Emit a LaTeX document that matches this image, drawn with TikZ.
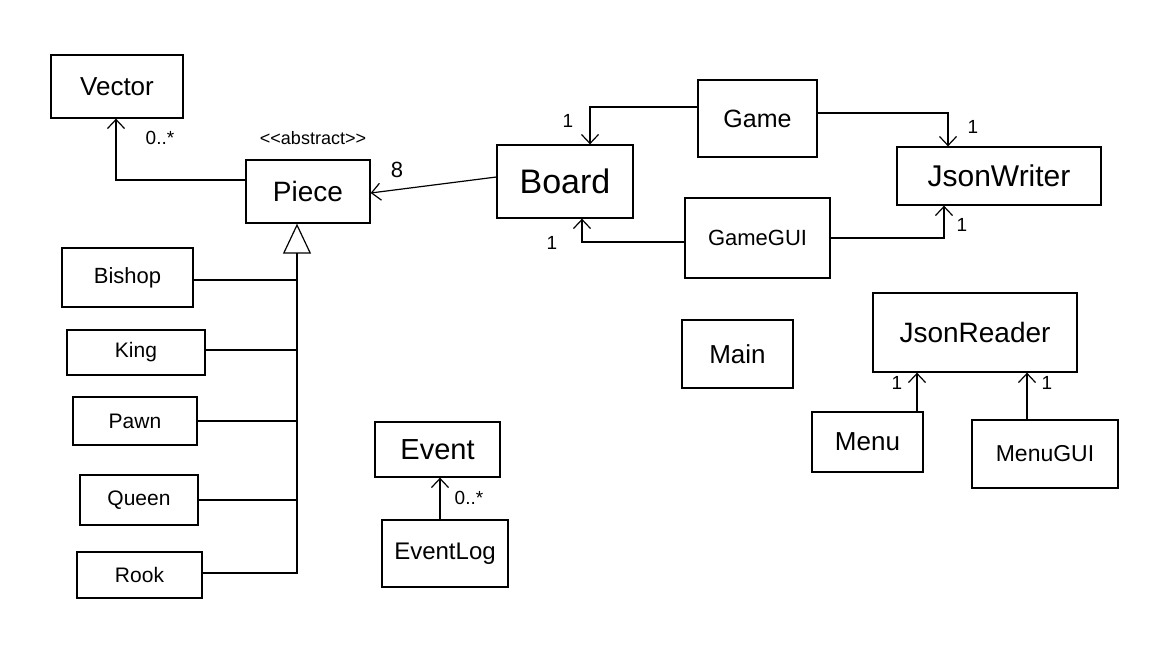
\documentclass[tikz,border=0pt]{standalone}
\usepackage{fontspec}
\setmainfont{Liberation Sans}
\usetikzlibrary{arrows.meta}
\newcommand{\fsz}[1]{\fontsize{#1}{#1}\selectfont}
\begin{document}
\begin{tikzpicture}[x=1pt,y=-1pt,
  box/.style={draw, line width=1.3pt, inner sep=0pt, anchor=center},
  conn/.style={line width=1.2pt},
  arr/.style={conn, -{Straight Barb[length=9pt,width=17pt,line width=1.2pt]}},
  inh/.style={conn, -{Triangle[open,length=30pt,width=28pt,line width=1.2pt]}},
  lbl/.style={font=\fsz{19}, inner sep=0pt}
]
\fill[white] (0,0) rectangle (1166,657);
\useasboundingbox (0,0) rectangle (1166,657);

% left column
\node[box, minimum width=132pt, minimum height=63pt, font=\fsz{26}] (vector) at (117,86.5) {Vector};
\node[box, minimum width=124pt, minimum height=63pt, font=\fsz{28}] (piece) at (308,191.5) {Piece};
\node[lbl, font=\fsz{18}] (abs) at (313,138) {<{}<abstract>{}>};
\node[box, minimum width=131pt, minimum height=59pt, font=\fsz{22}] (bishop) at (127.5,277.5) {Bishop};
\node[box, minimum width=138pt, minimum height=45pt, font=\fsz{21}] (king) at (136,352.5) {King};
\node[box, minimum width=124pt, minimum height=48pt, font=\fsz{21}] (pawn) at (135,421) {Pawn};
\node[box, minimum width=118pt, minimum height=50pt, font=\fsz{21}] (queen) at (139,500) {Queen};
\node[box, minimum width=125pt, minimum height=46pt, font=\fsz{21}] (rook) at (139.5,575) {Rook};

% middle
\node[box, minimum width=136pt, minimum height=73pt, font=\fsz{34}] (board) at (565,181.5) {Board};
\node[box, minimum width=125pt, minimum height=55pt, font=\fsz{29}] (event) at (437.5,449.5) {Event};
\node[box, minimum width=126pt, minimum height=67pt, font=\fsz{24}] (eventlog) at (445,553.5) {EventLog};

% right
\node[box, minimum width=119pt, minimum height=77pt, font=\fsz{25}] (game) at (757.5,118.5) {Game};
\node[box, minimum width=204pt, minimum height=58pt, font=\fsz{30}] (jw) at (999,176) {JsonWriter};
\node[box, minimum width=145pt, minimum height=80pt, font=\fsz{22}] (gamegui) at (757.5,238) {GameGUI};
\node[box, minimum width=111pt, minimum height=68pt, font=\fsz{26}] (main) at (737.5,354) {Main};
\node[box, minimum width=204pt, minimum height=79pt, font=\fsz{28}] (jr) at (975,332.5) {JsonReader};
\node[box, minimum width=111pt, minimum height=60pt, font=\fsz{26}] (menu) at (867.5,442) {Menu};
\node[box, minimum width=146pt, minimum height=68pt, font=\fsz{23}] (menugui) at (1045,454) {MenuGUI};

% Piece -> Vector
\draw[arr] ([yshift=11.5pt]piece.west) -| ([xshift=-1pt]vector.south);
\node[lbl] (l1) at (160,138) {0..*};
% Board -> Piece
\draw[arr] ([yshift=4.5pt]board.west) -- ([yshift=-1.5pt]piece.east);
\node[lbl, font=\fsz{22}] (l2) at (397,170) {8};

% inheritance
\coordinate (trunk) at (297,573);
\draw[inh] (rook.east |- trunk) -| (trunk |- piece.south);
\draw[conn] ([yshift=-2.5pt]bishop.east) -- ([yshift=-2.5pt]bishop.east -| trunk);
\draw[conn] ([yshift=2.5pt]king.east) -- ([yshift=2.5pt]king.east -| trunk);
\draw[conn] (pawn.east) -- (pawn.east -| trunk);
\draw[conn] (queen.east) -- (queen.east -| trunk);

% Game -> Board, Game -> JsonWriter
\draw[arr] ([yshift=11.5pt]game.west) -| ([xshift=25pt]board.north);
\node[lbl] (l3) at (568,121) {1};
\draw[arr] ([yshift=5.5pt]game.east) -| ([xshift=-51pt]jw.north);
\node[lbl] (l4) at (973,127) {1};

% GameGUI -> Board, GameGUI -> JsonWriter
\draw[arr] ([yshift=-4pt]gamegui.west) -| ([xshift=17pt]board.south);
\node[lbl] (l5) at (552,243) {1};
\draw[arr] (gamegui.east) -| ([xshift=-55pt]jw.south);
\node[lbl] (l6) at (962,225) {1};

% Menu / MenuGUI -> JsonReader
\draw[arr] ([xshift=49.5pt]menu.north) -- ([xshift=-58pt]jr.south);
\node[lbl] (l7) at (897,383) {1};
\draw[arr] ([xshift=-18pt]menugui.north) -- ([xshift=52pt]jr.south);
\node[lbl] (l8) at (1047,383) {1};

% EventLog -> Event
\draw[arr] ([xshift=-5pt]eventlog.north) -- ([xshift=2.5pt]event.south);
\node[lbl] (l9) at (469,498) {0..*};
\end{tikzpicture}
\end{document}
